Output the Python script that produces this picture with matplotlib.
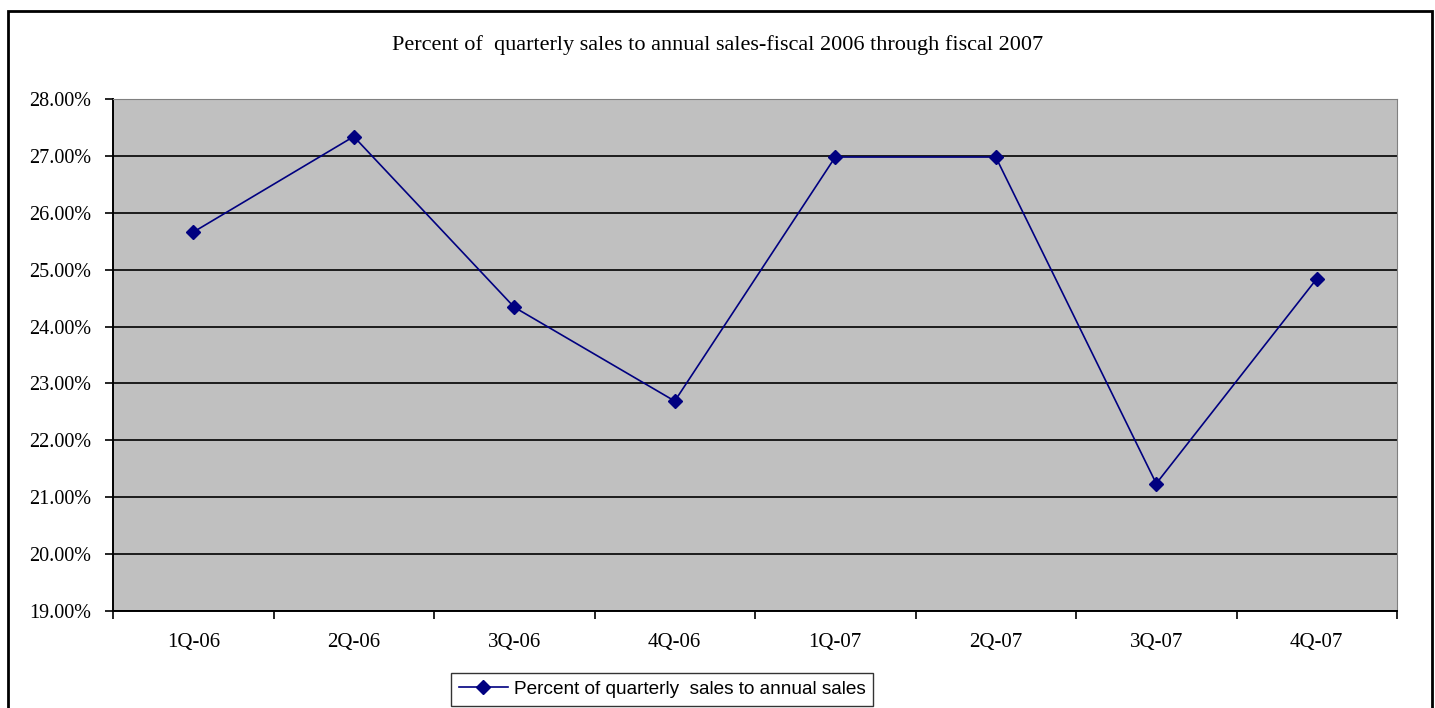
import numpy as np
import matplotlib
matplotlib.use('Agg')
import matplotlib.pyplot as plt
from matplotlib.patches import Rectangle
from matplotlib.ticker import FuncFormatter, FixedLocator

# data
quarters = ['1Q-06', '2Q-06', '3Q-06', '4Q-06', '1Q-07', '2Q-07', '3Q-07', '4Q-07']
pct_of_annual = [25.66, 27.34, 24.34, 22.69, 26.98, 26.98, 21.24, 24.84]
series_label = 'Percent of quarterly  sales to annual sales'
title = 'Percent of  quarterly sales to annual sales-fiscal 2006 through fiscal 2007'

serif = ['Liberation Serif', 'DejaVu Serif']
sans = ['Liberation Sans', 'DejaVu Sans']
plt.rcParams['font.family'] = serif

W, H = 1435, 708
fig = plt.figure(figsize=(W / 100, H / 100), dpi=100)
ax = fig.add_axes([113 / W, 1 - 611 / H, (1397 - 113) / W, (611 - 99) / H])

# outer chart border
fig.patches.append(Rectangle((8 / W, -0.05), (1432 - 8) / W, 1 - 11 / H + 0.05,
                             transform=fig.transFigure, fill=False,
                             edgecolor='black', lw=2.0))

ax.set_facecolor('#c0c0c0')
x = np.arange(len(quarters))
ax.plot(x, pct_of_annual, color='#000080', lw=1.2, marker='D', ms=7,
        label=series_label, zorder=3)

ax.set_xlim(-0.5, len(quarters) - 0.5)
ax.set_ylim(19, 28)
ax.set_yticks(np.arange(19, 28.01, 1))
ax.yaxis.set_major_formatter(FuncFormatter(lambda v, p: f'{v:.2f}%'))
ax.grid(axis='y', color='black', lw=1.2)
ax.set_axisbelow(True)

ax.set_xticks(x)
ax.set_xticklabels(quarters)
ax.xaxis.set_minor_locator(FixedLocator(np.arange(-0.5, len(quarters), 1)))
ax.tick_params(axis='x', which='major', length=0, pad=16, labelsize=15)
ax.tick_params(axis='x', which='minor', length=6, width=1.2, direction='out')
ax.tick_params(axis='y', length=6, width=1.2, pad=9.5, labelsize=14.5)

ax.spines['left'].set_linewidth(1.4)
ax.spines['bottom'].set_linewidth(1.4)
ax.spines['top'].set_color('#808080')
ax.spines['right'].set_color('#808080')

fig.text(0.5, 1 - 45 / H, title, ha='center', va='center', fontsize=16)

leg = ax.legend(loc='upper center', bbox_to_anchor=(0.5 * (451 + 873) / W, 1 - 673 / H),
                bbox_transform=fig.transFigure, ncol=1, frameon=True, fancybox=False,
                prop={'family': sans, 'size': 13.7}, handlelength=2.6,
                handletextpad=0.3, borderpad=0.4, borderaxespad=0)
leg.get_frame().set_edgecolor('black')
leg.get_frame().set_linewidth(1.0)

fig.savefig('out.png', dpi=100)
